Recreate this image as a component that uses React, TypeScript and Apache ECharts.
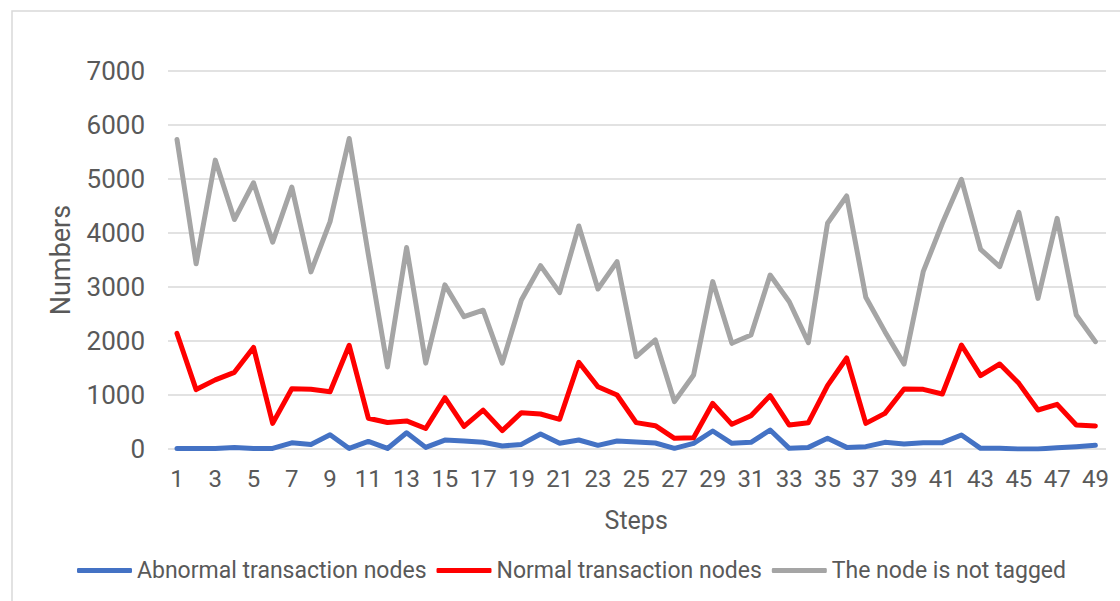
import React, { useEffect, useRef } from "react";
import * as echarts from "echarts";

const steps: string[] = Array.from({ length: 49 }, (_, i) => String(i + 1));

const abnormalNodes: number[] = [
  10, 10, 10, 30, 10, 10, 115, 85, 265, 10,
  140, 10, 300, 30, 165, 150, 125, 55, 85, 278,
  105, 167, 68, 148, 130, 111, 12, 105, 333, 105,
  123, 352, 12, 30, 197, 30, 43, 123, 93, 117,
  117, 259, 12, 12, 0, 0, 25, 43, 68,
];

const normalNodes: number[] = [
  2140, 1100, 1280, 1420, 1880, 475, 1117, 1105, 1060, 1920,
  570, 490, 520, 380, 950, 420, 720, 340, 673, 648,
  550, 1605, 1154, 1000, 488, 432, 198, 210, 846, 457,
  617, 988, 444, 488, 1173, 1685, 475, 660, 1111, 1105,
  1018, 1926, 1358, 1574, 1216, 722, 827, 444, 426,
];

const untaggedNodes: number[] = [
  5730, 3430, 5350, 4250, 4930, 3830, 4850, 3280, 4210, 5750,
  3600, 1520, 3730, 1590, 3040, 2450, 2570, 1590, 2760, 3395,
  2895, 4130, 2963, 3470, 1710, 2020, 877, 1370, 3100, 1957,
  2110, 3222, 2728, 1970, 4180, 4685, 2810, 2173, 1574, 3284,
  4180, 4994, 3698, 3377, 4383, 2790, 4272, 2481, 1988,
];

const seriesNames = [
  "Abnormal transaction nodes",
  "Normal transaction nodes",
  "The node is not tagged",
];
const seriesColors = ["#4472C4", "#FF0000", "#A5A5A5"];

const FONT = "Roboto, 'Noto Sans', sans-serif";
const TEXT_COLOR = "#595959";

export default function App() {
  const ref = useRef<HTMLDivElement>(null);

  useEffect(() => {
    if (!ref.current) return;
    const chart = echarts.init(ref.current, undefined, { renderer: "svg" });
    const values = [abnormalNodes, normalNodes, untaggedNodes];
    chart.setOption({
      animation: false,
      backgroundColor: "#ffffff",
      textStyle: { fontFamily: FONT },
      graphic: [
        {
          type: "rect",
          shape: { x: 12, y: 11, width: 1130, height: 620 },
          style: { fill: "none", stroke: "#d9d9d9", lineWidth: 1.5 },
          silent: true,
          z: -10,
        },
      ],
      grid: [
        { left: 168, right: 14, top: 71, bottom: 152 },
        { left: 177, right: 24.6, top: 71, bottom: 152 },
      ],
      xAxis: [
        { type: "value", gridIndex: 0, show: false, min: 0, max: 1 },
        {
          type: "category",
          gridIndex: 1,
          data: steps,
          boundaryGap: false,
          axisLine: { show: false },
          axisTick: { show: false },
          axisLabel: {
            interval: 1,
            color: TEXT_COLOR,
            fontSize: 24,
            fontFamily: FONT,
            margin: 18,
          },
          name: "Steps",
          nameLocation: "middle",
          nameGap: 59,
          nameTextStyle: { color: TEXT_COLOR, fontSize: 25, fontFamily: FONT },
          splitLine: { show: false },
        },
      ],
      yAxis: [
        {
          type: "value",
          gridIndex: 0,
          min: 0,
          max: 7000,
          interval: 1000,
          axisLine: { show: false },
          axisTick: { show: false },
          axisLabel: {
            color: TEXT_COLOR,
            fontSize: 26,
            fontFamily: FONT,
            margin: 23,
            formatter: (v: number) => String(v),
          },
          splitLine: { lineStyle: { color: "#d9d9d9", width: 1.5 } },
          name: "Numbers",
          nameLocation: "middle",
          nameGap: 94,
          nameTextStyle: { color: TEXT_COLOR, fontSize: 27, fontFamily: FONT },
        },
        {
          type: "value",
          gridIndex: 1,
          min: 0,
          max: 7000,
          interval: 1000,
          show: false,
          splitLine: { show: false },
        },
      ],
      legend: {
        bottom: 14,
        left: 72,
        itemWidth: 55,
        itemHeight: 5,
        itemGap: 10,
        icon: "roundRect",
        textStyle: { color: TEXT_COLOR, fontSize: 23, fontFamily: FONT },
        data: seriesNames,
      },
      series: seriesNames.map((name, i) => ({
        name,
        type: "line",
        xAxisIndex: 1,
        yAxisIndex: 1,
        data: values[i],
        symbol: "none",
        color: seriesColors[i],
        lineStyle: { width: 5, color: seriesColors[i], cap: "round", join: "round" },
      })),
    });
    return () => chart.dispose();
  }, []);

  return (
    <div
      ref={ref}
      style={{ position: "fixed", left: 0, top: 0, width: 1120, height: 601 }}
    />
  );
}
